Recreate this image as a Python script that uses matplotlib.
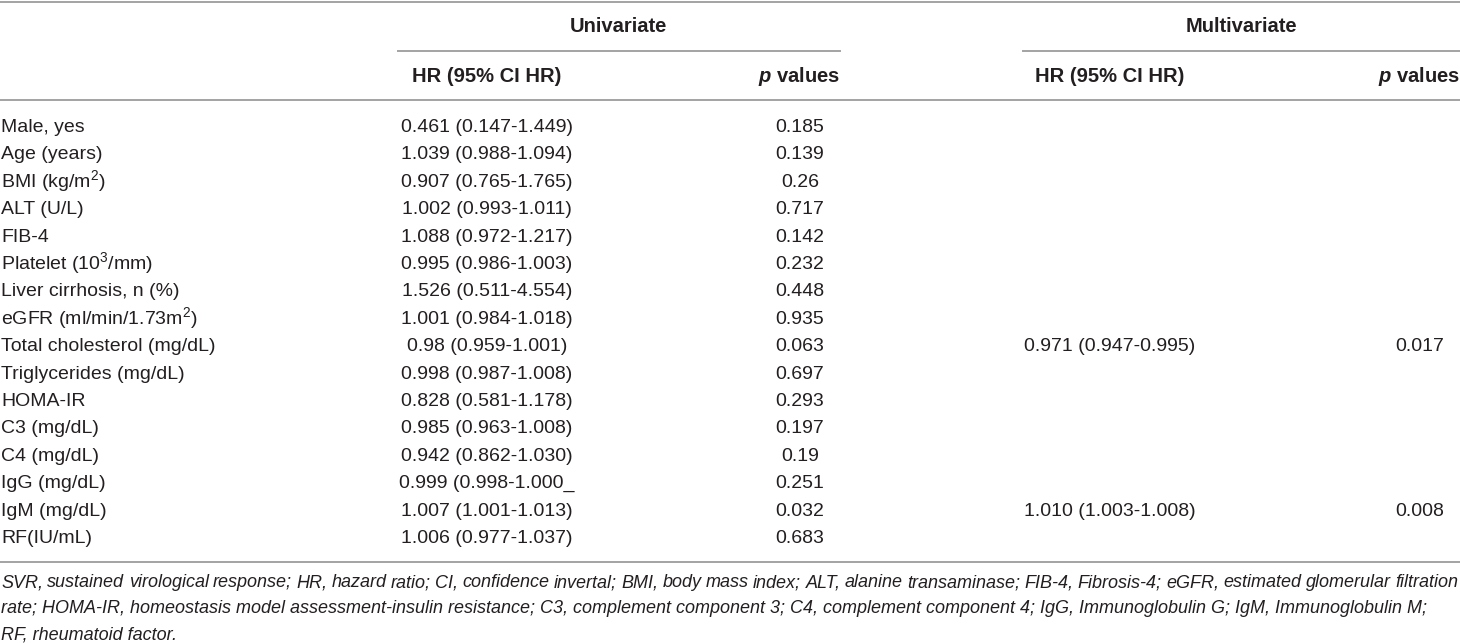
import matplotlib
matplotlib.use('Agg')
from matplotlib import pyplot as plt
from matplotlib.font_manager import FontProperties

plt.rcParams['font.family'] = ['Liberation Sans', 'DejaVu Sans']
plt.rcParams['mathtext.fontset'] = 'custom'
plt.rcParams['mathtext.rm'] = 'Liberation Sans'
plt.rcParams['mathtext.it'] = 'Liberation Sans:italic'
plt.rcParams['mathtext.bf'] = 'Liberation Sans:bold'
plt.rcParams['mathtext.bfit'] = 'Liberation Sans:italic:bold'

# table content
variables = ['Male, yes', 'Age (years)', r'BMI (kg/m$^{2}$)', 'ALT (U/L)', 'FIB-4',
             r'Platelet (10$^{3}$/mm)', 'Liver cirrhosis, n (%)', r'eGFR (ml/min/1.73m$^{2}$)',
             'Total cholesterol (mg/dL)', 'Triglycerides (mg/dL)', 'HOMA-IR', 'C3 (mg/dL)',
             'C4 (mg/dL)', 'IgG (mg/dL)', 'IgM (mg/dL)', 'RF(IU/mL)']
uni_hr = ['0.461 (0.147-1.449)', '1.039 (0.988-1.094)', '0.907 (0.765-1.765)', '1.002 (0.993-1.011)',
          '1.088 (0.972-1.217)', '0.995 (0.986-1.003)', '1.526 (0.511-4.554)', '1.001 (0.984-1.018)',
          '0.98 (0.959-1.001)', '0.998 (0.987-1.008)', '0.828 (0.581-1.178)', '0.985 (0.963-1.008)',
          '0.942 (0.862-1.030)', '0.999 (0.998-1.000_', '1.007 (1.001-1.013)', '1.006 (0.977-1.037)']
uni_p = ['0.185', '0.139', '0.26', '0.717', '0.142', '0.232', '0.448', '0.935',
         '0.063', '0.697', '0.293', '0.197', '0.19', '0.251', '0.032', '0.683']
multi_hr = {'Total cholesterol (mg/dL)': '0.971 (0.947-0.995)', 'IgM (mg/dL)': '1.010 (1.003-1.008)'}
multi_p = {'Total cholesterol (mg/dL)': '0.017', 'IgM (mg/dL)': '0.008'}

footnote = ['SVR, sustained virological response; HR, hazard ratio; CI, confidence invertal; BMI, body mass index; '
            'ALT, alanine transaminase; FIB-4, Fibrosis-4; eGFR, estimated glomerular filtration',
            'rate; HOMA-IR, homeostasis model assessment-insulin resistance; C3, complement component 3; '
            'C4, complement component 4; IgG, Immunoglobulin G; IgM, Immunoglobulin M;',
            'RF, rheumatoid factor.']

W, H = 1460, 643
fig = plt.figure(figsize=(14.6, 6.43), dpi=100)
ax = fig.add_axes([0, 0, 1, 1])
ax.set_xlim(0, W)
ax.set_ylim(H, 0)
ax.axis('off')

txt = '#231f20'
line_c = '#a3a3a3'
fs = 14
hfs = 14.5
base = 5  # baseline offset below the row centre

# rules
ax.plot([0, W], [1.5, 1.5], color=line_c, lw=1.4)
ax.plot([398, 840], [51, 51], color=line_c, lw=1.4)
ax.plot([1023, W], [51, 51], color=line_c, lw=1.4)
ax.plot([0, W], [100, 100], color=line_c, lw=1.4)
ax.plot([0, W], [562, 562], color=line_c, lw=1.4)

# headers
hb = dict(va='baseline', fontsize=hfs, fontweight='bold', color=txt)
ax.text(618, 27 + base, 'Univariate', ha='center', **hb)
ax.text(1241, 27 + base, 'Multivariate', ha='center', **hb)
ax.text(487, 77 + base, 'HR (95% CI HR)', ha='center', **hb)
ax.text(840, 77 + base, r'$\mathbfit{p}$ values', ha='right', **hb)
ax.text(1110, 77 + base, 'HR (95% CI HR)', ha='center', **hb)
ax.text(1460, 77 + base, r'$\mathbfit{p}$ values', ha='right', **hb)

# body rows
y0, dy = 127, 27.4
cell = dict(va='baseline', fontsize=fs, color=txt)
for i, name in enumerate(variables):
    y = y0 + i * dy + base
    ax.text(1, y, name, ha='left', **cell)
    ax.text(487, y, uni_hr[i], ha='center', **cell)
    ax.text(800, y, uni_p[i], ha='center', **cell)
    if name in multi_hr:
        ax.text(1110, y, multi_hr[name], ha='center', **cell)
        ax.text(1420, y, multi_p[name], ha='center', **cell)

# footnote: first line justified to the full width, word by word
fig.canvas.draw()
r = fig.canvas.get_renderer()
ffs = 12.95
prop = FontProperties(family='Liberation Sans', style='italic', size=ffs)


def width(s):
    return r.get_text_width_height_descent(s, prop, ismath=False)[0]


words = footnote[0].split(' ')
ww = [width(s) for s in words]
gap = (1458 - 1 - sum(ww)) / (len(words) - 1)
x = 1
for s, wd in zip(words, ww):
    ax.text(x, 582 + base, s, ha='left', va='baseline', fontproperties=prop, color=txt)
    x += wd + gap
for j, line in enumerate(footnote[1:]):
    ax.text(1, 608 + j * 26 + base, line, ha='left', va='baseline', fontproperties=prop, color=txt)

plt.savefig('out.png', dpi=100)
